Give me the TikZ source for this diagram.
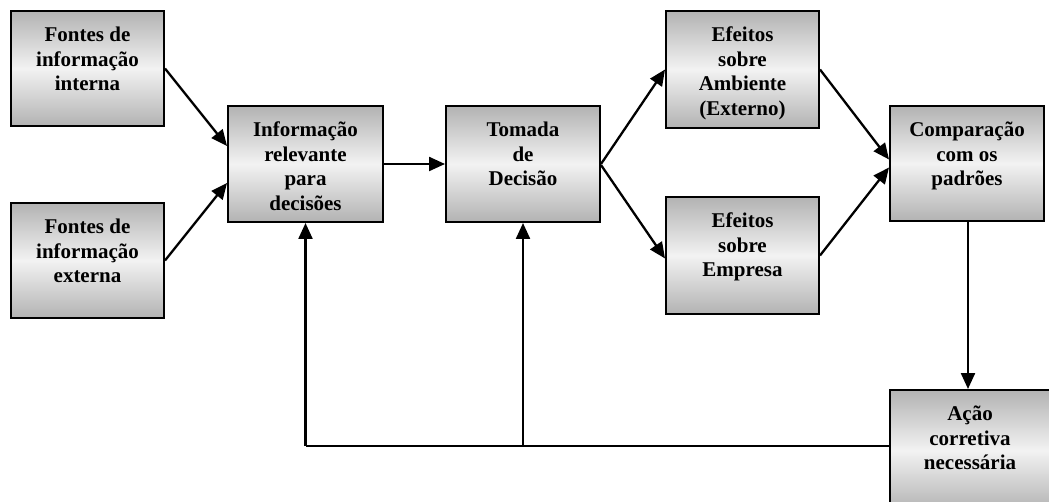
\documentclass[tikz,border=0pt]{standalone}
\usepackage{fontspec}
\setmainfont{Liberation Serif}
\usetikzlibrary{arrows.meta}
\definecolor{boxdark}{gray}{0.70}
\definecolor{boxlight}{gray}{0.95}
\tikzset{
  box/.style={draw=black, line width=2pt, rectangle, inner sep=0pt,
    top color=boxdark, bottom color=boxdark, middle color=boxlight},
  lbl/.style={anchor=north, inner sep=0pt, align=center,
    font=\fontsize{21}{24.5}\selectfont\bfseries},
  conn/.style={line width=2.3pt, -{Triangle[length=16pt,width=14pt]}},
  plain/.style={line width=2.3pt}
}
\newcommand{\mkbox}[6]{%
  % name, x1, y1, x2, y2, text
  \node[box, minimum width={#4-#2}, minimum height={#5-#3}, anchor=north west] (#1) at (#2,#3) {};
  \node[lbl] (#1t) at ([yshift=-17pt]#1.north) {#6};
}
\begin{document}
\begin{tikzpicture}[x=1pt,y=-1pt]
\useasboundingbox (0,0) rectangle (1049,502);
\mkbox{b1}{10}{10}{163}{125}{Fontes de\\informação\\interna}
\mkbox{b2}{10}{202}{163}{317}{Fontes de\\informação\\externa}
\mkbox{b3}{227}{105}{382}{221}{Informação\\relevante\\para\\decisões}
\mkbox{b4}{445}{105}{599}{221}{Tomada\\de\\Decisão}
\mkbox{b5}{665}{10}{818}{127}{Efeitos\\sobre\\Ambiente\\(Externo)}
\mkbox{b6}{665}{196}{818}{313}{Efeitos\\sobre\\Empresa}
\mkbox{b7}{889}{105}{1043}{220}{Comparação\\com os\\padrões}
\mkbox{b8}{889}{389}{1049}{510}{Ação\\corretiva\\necessária}
\coordinate (fbL) at (b3.south |- 0,446);
\coordinate (fbM) at (b4.south |- 0,446);
\draw[conn] (b1.east) -- ([yshift=18pt]b3.west);
\draw[conn] (b2.east) -- ([yshift=-19pt]b3.west);
\draw[conn] (b3.east) -- (b4.west);
\draw[conn] (b4.east) -- (b5.west);
\draw[conn] ([yshift=-1pt]b4.east) -- ([yshift=-3pt]b6.west);
\draw[conn] (b5.east) -- ([yshift=4pt]b7.west);
\draw[conn] (b6.east) -- ([yshift=-4pt]b7.west);
\draw[conn] (b7.south -| 968,0) -- (b8.north -| 968,0);
\draw[plain] (b8.west |- 0,446) -- (fbL);
\draw[conn] (fbL) -- (b3.south);
\draw[conn] (fbM) -- (b4.south);
\end{tikzpicture}
\end{document}
